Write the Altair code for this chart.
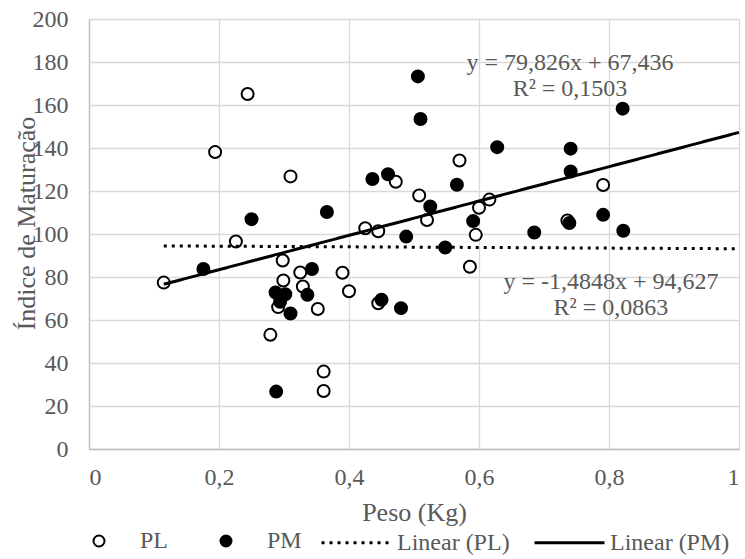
import altair as alt
import pandas as pd

# ---------------- data ----------------
pl_x = [0.115, 0.194, 0.226, 0.244, 0.279, 0.291, 0.298, 0.299, 0.310, 0.325,
        0.329, 0.352, 0.361, 0.361, 0.390, 0.400, 0.425, 0.445, 0.445, 0.472,
        0.508, 0.520, 0.570, 0.586, 0.595, 0.600, 0.616, 0.736, 0.791]
pl_y = [77.4, 138.1, 96.5, 165.1, 53.1, 66.0, 87.7, 78.4, 126.8, 82.1,
        75.6, 65.1, 36.0, 27.0, 82.0, 73.4, 102.7, 101.3, 67.8, 124.3,
        117.9, 106.5, 134.2, 84.8, 99.6, 112.2, 116.0, 106.3, 122.8]

pm_x = [0.176, 0.250, 0.287, 0.288, 0.294, 0.302, 0.310, 0.336, 0.343, 0.366,
        0.436, 0.450, 0.460, 0.480, 0.488, 0.506, 0.510, 0.525, 0.548, 0.566,
        0.591, 0.628, 0.685, 0.741, 0.741, 0.739, 0.791, 0.821, 0.822]
pm_y = [83.7, 106.9, 72.8, 26.7, 68.5, 72.0, 63.0, 71.7, 83.7, 110.2,
        125.6, 69.4, 127.8, 65.5, 98.8, 173.3, 153.5, 112.8, 93.7, 122.9,
        106.0, 140.4, 100.7, 139.7, 129.1, 105.1, 108.9, 158.3, 101.5]

point_series = ["PL", "PM"]
trend_series = ["Linear (PL)", "Linear (PM)"]
trend_slope = {"PL": -1.4848, "PM": 79.826}
trend_intercept = {"PL": 94.627, "PM": 67.436}
trend_x_range = [0.115, 1.0]

eq_lines = ["y = 79,826x + 67,436", "R² = 0,1503",
            "y = -1,4848x + 94,627", "R² = 0,0863"]

x_ticks = [0, 0.2, 0.4, 0.6, 0.8, 1.0]
y_ticks = [0, 20, 40, 60, 80, 100, 120, 140, 160, 180, 200]

# ---------------- tables ----------------
points = pd.DataFrame(
    [{"x": a, "y": b, "series": "PL"} for a, b in zip(pl_x, pl_y)]
    + [{"x": a, "y": b, "series": "PM"} for a, b in zip(pm_x, pm_y)]
)
lines = pd.DataFrame([
    {"x": xv, "y": trend_slope[s] * xv + trend_intercept[s], "trend": f"Linear ({s})"}
    for s in ["PL", "PM"] for xv in trend_x_range
])

# equation label anchors (data units)
eq_x = [0.740, 0.740, 0.803, 0.803]
eq_y = [179.7, 167.6, 77.7, 65.6]
eqs = pd.DataFrame({"x": eq_x, "y": eq_y, "text": eq_lines})

FONT = "Liberation Serif"
GRAY = "#595959"
FS = 24

point_legend = alt.Legend(
    title=None, orient="none", direction="horizontal",
    legendX=-2, legendY=510, padding=0,
    symbolSize=121, symbolStrokeWidth=2,
    labelFont=FONT, labelFontSize=FS, labelColor=GRAY,
    labelOffset=29, columnPadding=45,
)
line_legend = alt.Legend(
    title=None, orient="none", direction="horizontal",
    legendX=231, legendY=487, padding=0,
    symbolType="stroke", symbolSize=4900, symbolStrokeWidth=3,
    symbolStrokeColor="black",
    labelFont=FONT, labelFontSize=FS, labelColor=GRAY,
    labelOffset=4, columnPadding=18,
)

x_enc = alt.X("x:Q", scale=alt.Scale(domain=[0, 1], nice=False),
              axis=alt.Axis(values=x_ticks, title="Peso (Kg)",
                            labelExpr="replace(format(datum.value, '.1~f'), '.', ',')",
                            labelPadding=16, titlePadding=10))
y_enc = alt.Y("y:Q", scale=alt.Scale(domain=[0, 200], nice=False),
              axis=alt.Axis(values=y_ticks, title="Índice de Maturação",
                            labelPadding=21, titleX=-63, titleY=204,
                            titleBaseline="middle", titleAlign="center"))

pts = alt.Chart(points).mark_point(
    filled=False, strokeWidth=2, size=144, opacity=1
).encode(
    x=x_enc, y=y_enc,
    shape=alt.Shape("series:N", scale=alt.Scale(domain=point_series, range=["circle", "circle"]),
                    legend=point_legend),
    fill=alt.Fill("series:N", scale=alt.Scale(domain=point_series, range=["white", "black"]),
                  legend=point_legend),
    stroke=alt.Stroke("series:N", scale=alt.Scale(domain=point_series, range=["black", "black"]),
                      legend=point_legend),
    order=alt.Order("series:N"),
)

trend = alt.Chart(lines).mark_line(color="black", strokeWidth=3).encode(
    x="x:Q", y="y:Q",
    strokeDash=alt.StrokeDash("trend:N",
                              scale=alt.Scale(domain=trend_series, range=[[3, 5], [1, 0]]),
                              legend=line_legend),
)

labels = alt.Chart(eqs).mark_text(
    font=FONT, fontSize=FS, color=GRAY, align="center", baseline="middle"
).encode(x="x:Q", y="y:Q", text="text:N")

chart = alt.layer(pts, trend, labels).properties(
    width=650, height=430, autosize="none",
    padding={"left": 89, "top": 19, "right": 6, "bottom": 110},
).resolve_legend(
    strokeDash="independent"
).configure_view(stroke=None).configure_axis(
    gridColor="#d9d9d9", gridWidth=1.3, domainColor="#bfbfbf", domainWidth=1.3,
    ticks=False, labelFont=FONT, labelFontSize=FS, labelColor=GRAY,
    titleFont=FONT, titleFontSize=26, titleColor=GRAY, titleFontWeight="normal",
)

chart.save("out.html", embed_options={"renderer": "svg", "actions": False})
